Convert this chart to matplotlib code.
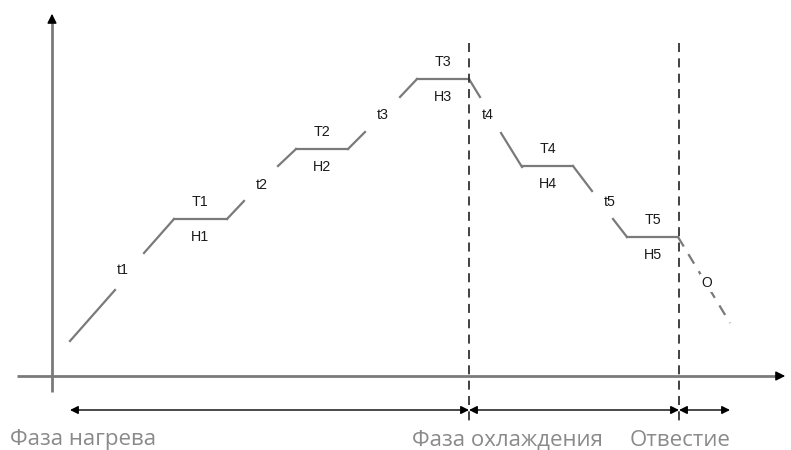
import matplotlib
matplotlib.use("Agg")
import matplotlib.pyplot as plt

# Profile data (x = time position, y = height in picture units, top = 0)
ramp_x0 = [70, 144, 227, 278, 348, 400, 469, 501, 573, 613]
ramp_y0 = [341, 253, 219, 166, 149, 97, 79, 133, 166, 219]
ramp_x1 = [115, 174, 244, 296, 365, 417, 480, 522, 592, 627]
ramp_y1 = [290, 219, 201, 149, 132, 79, 97, 167, 191, 237]

plat_x0 = [174, 296, 417, 522, 627]
plat_x1 = [227, 348, 469, 573, 678]
plat_y = [219, 149, 79, 166, 237]
plat_top = ["T1", "T2", "T3", "T4", "T5"]
plat_bot = ["H1", "H2", "H3", "H4", "H5"]

ramp_labels = ["t1", "t2", "t3", "t4", "t5"]
ramp_lab_x = [123, 262, 383, 488, 610]
ramp_lab_y = [270, 185, 115, 115, 202]

quench_x = [678, 730]
quench_y = [237, 323]
quench_label = "O"

phase_bounds = [70, 469, 679, 730]
phase_names = ["Фаза нагрева", "Фаза охлаждения", "Отвестие"]
phase_lab_x = [10, 412, 630]

fig = plt.figure(figsize=(7.91, 4.50), dpi=100)
ax = fig.add_axes([0, 0, 1, 1])
ax.set_xlim(0, 791)
ax.set_ylim(450, 0)
ax.axis("off")

gray = "#7a7a7a"
lab_font = dict(family=["Liberation Sans", "DejaVu Sans"], fontsize=10.3, color="#1a1a1a",
                ha="center", va="center")

# axes
ax.plot([52, 52], [392, 20], color=gray, lw=2, solid_capstyle="butt")
ax.annotate("", xy=(52, 11), xytext=(52, 24),
            arrowprops=dict(arrowstyle="-|>", color="black", lw=1, mutation_scale=14))
ax.plot([17, 778], [376, 376], color=gray, lw=2, solid_capstyle="butt")
ax.annotate("", xy=(788, 376), xytext=(775, 376),
            arrowprops=dict(arrowstyle="-|>", color="black", lw=1, mutation_scale=14))

# ramps
for a, b, c, d in zip(ramp_x0, ramp_y0, ramp_x1, ramp_y1):
    ax.plot([a, c], [b, d], color=gray, lw=1.6)
# plateaus
for a, c, y, t, h in zip(plat_x0, plat_x1, plat_y, plat_top, plat_bot):
    ax.plot([a, c], [y, y], color=gray, lw=1.6)
    ax.text((a + c) / 2, y - 17, t, **lab_font)
    ax.text((a + c) / 2, y + 18, h, **lab_font)
for t, x, y in zip(ramp_labels, ramp_lab_x, ramp_lab_y):
    ax.text(x, y, t, **lab_font)

# quench dashed
ax.plot(quench_x, quench_y, color=gray, lw=1.6, ls=(0, (5, 4)))
qx = (quench_x[0] + quench_x[1]) / 2 + 3
qy = (quench_y[0] + quench_y[1]) / 2 + 3
ax.text(qx, qy, quench_label, fontsize=10, family=["Liberation Sans"], color="#1a1a1a",
        ha="center", va="center", bbox=dict(facecolor="white", edgecolor="none", pad=1.5))

# phase boundaries
for x in phase_bounds[1:3]:
    ax.plot([x, x], [43, 422], color="#333333", lw=1.3, ls=(0, (5, 3.5)))

# phase arrows
for x0, x1 in zip(phase_bounds[:-1], phase_bounds[1:]):
    ax.annotate("", xy=(x0, 410), xytext=(x1, 410),
                arrowprops=dict(arrowstyle="<|-|>", color="black", lw=1,
                                mutation_scale=12, shrinkA=0, shrinkB=0))

for name, x in zip(phase_names, phase_lab_x):
    ax.text(x, 440, name, fontsize=16, family=["Open Sans", "DejaVu Sans"], color="#8a8a8a",
            ha="left", va="center")

fig.savefig("out.png", dpi=100)
